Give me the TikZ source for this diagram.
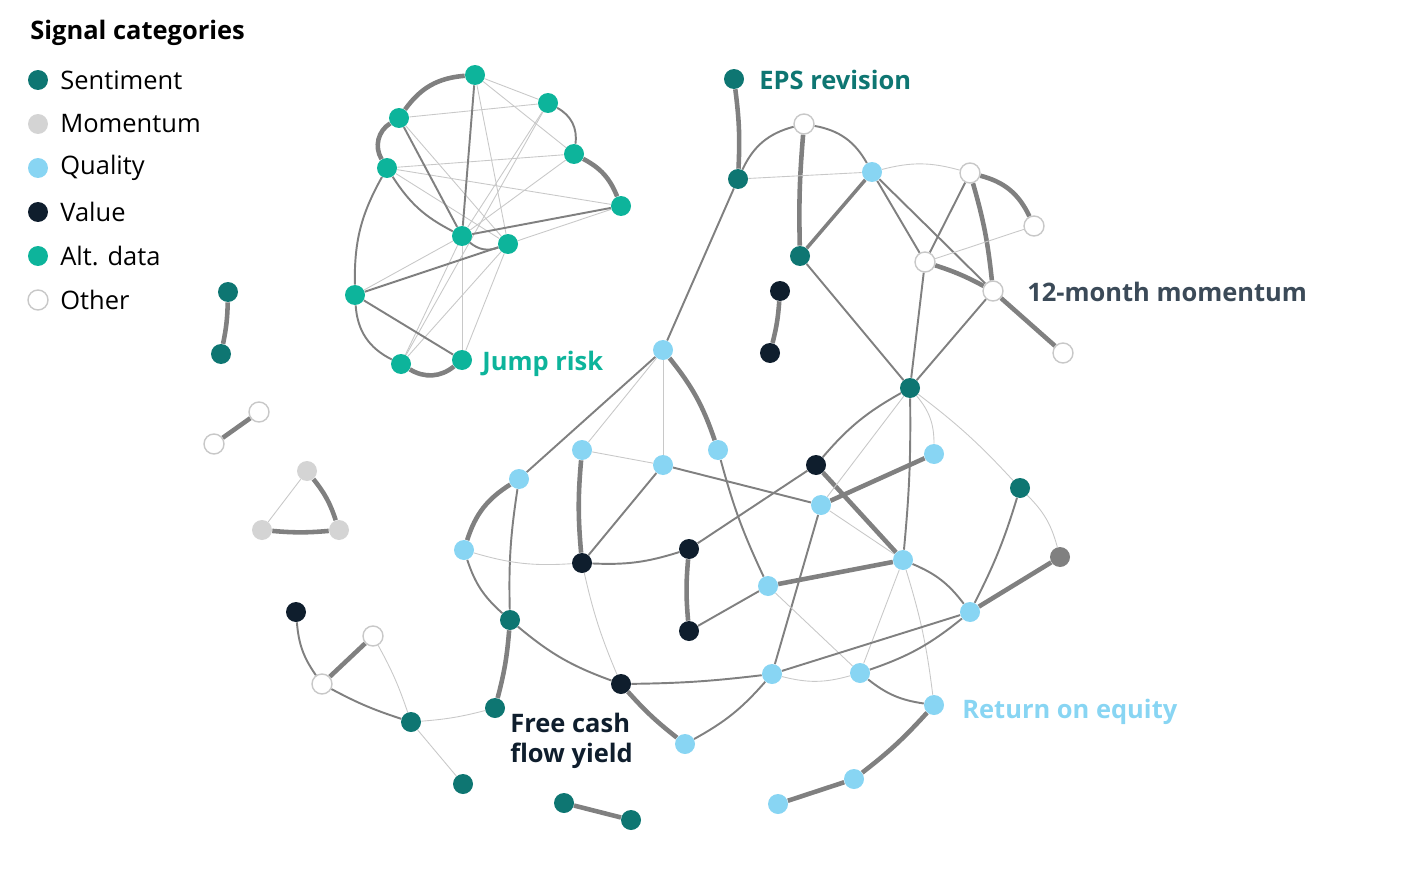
\documentclass[tikz,border=0pt]{standalone}
\usepackage{fontspec}
\setmainfont{Open Sans}
\usetikzlibrary{backgrounds}
\definecolor{senti}{HTML}{0E7672}
\definecolor{momen}{HTML}{D4D4D4}
\definecolor{quali}{HTML}{88D5F3}
\definecolor{valu}{HTML}{0F1E2D}
\definecolor{altd}{HTML}{0DB49B}
\definecolor{edgec}{HTML}{808080}
\definecolor{lightedge}{HTML}{C8C8C8}
\definecolor{momlab}{HTML}{3B4A58}
\tikzset{
  dot/.style={circle, inner sep=0pt, minimum size=0.4cm},
  sen/.style={dot, fill=senti},
  mom/.style={dot, fill=momen},
  qua/.style={dot, fill=quali},
  val/.style={dot, fill=valu},
  alt/.style={dot, fill=altd},
  oth/.style={dot, fill=white, draw=lightedge, line width=0.8pt},
  gry/.style={dot, fill=edgec},
  thin/.style={lightedge, line width=0.5pt},
  mid/.style={edgec, line width=1.1pt},
  thk/.style={edgec, line width=2.6pt},
  lab/.style={font=\fontsize{14.5}{17}\selectfont, anchor=west, inner sep=0pt},
  blab/.style={lab, font=\fontsize{14.5}{17}\selectfont\bfseries},
}
\begin{document}
\begin{tikzpicture}[x=0.02cm, y=-0.02cm]
	\useasboundingbox (0,0) rectangle (1416,892);
	% legend
	\node [blab] (legtitle) at (30,33) {Signal categories};
	\node [sen] (l1) at (38,80) {};  \node [lab] at (60,80) {Sentiment};
	\node [mom] (l2) at (38,124) {}; \node [lab] at (60,124) {Momentum};
	\node [qua] (l3) at (38,168) {}; \node [lab] at (60,168) {Quality};
	\node [val] (l4) at (38,212) {}; \node [lab] at (60,212) {Value};
	\node [alt] (l5) at (38,256) {}; \node [lab] at (60,256) {Alt. data};
	\node [oth] (l6) at (38,300) {}; \node [lab] at (60,300) {Other};

	% alt data cluster
	\node [alt] (a1) at (475,75) {};
	\node [alt] (a2) at (548,103) {};
	\node [alt] (a3) at (399,118) {};
	\node [alt] (a4) at (574,154) {};
	\node [alt] (a5) at (387,168) {};
	\node [alt] (a6) at (621,206) {};
	\node [alt] (a7) at (462,236) {};
	\node [alt] (a8) at (508,244) {};
	\node [alt] (a9) at (355,295) {};
	\node [alt] (a10) at (401,364) {};
	\node [alt] (a11) at (462,360) {};

	% upper right cluster
	\node [sen] (eps) at (734,79) {};
	\node [sen] (s2) at (738,179) {};
	\node [oth] (o1) at (804,124) {};
	\node [qua] (q1) at (872,172) {};
	\node [sen] (s3) at (800,256) {};
	\node [oth] (o2) at (970,173) {};
	\node [oth] (o3) at (1034,226) {};
	\node [oth] (o4) at (925,262) {};
	\node [oth] (o5) at (993,291) {};
	\node [oth] (o6) at (1063,353) {};
	\node [sen] (s4) at (910,388) {};

	% small pieces
	\node [val] (v7) at (780,291) {};
	\node [val] (v8) at (770,353) {};
	\node [sen] (s10) at (228,292) {};
	\node [sen] (s11) at (221,354) {};
	\node [oth] (o9) at (259,412) {};
	\node [oth] (o10) at (214,444) {};
	\node [mom] (m1) at (307,471) {};
	\node [mom] (m2) at (262,530) {};
	\node [mom] (m3) at (339,530) {};

	% lower cluster
	\node [qua] (q2) at (663,350) {};
	\node [qua] (q3) at (519,479) {};
	\node [qua] (q4) at (582,450) {};
	\node [qua] (q5) at (663,465) {};
	\node [qua] (q6) at (718,450) {};
	\node [qua] (q7) at (464,550) {};
	\node [val] (v1) at (582,563) {};
	\node [val] (v2) at (689,549) {};
	\node [val] (v3) at (816,465) {};
	\node [qua] (q8) at (821,505) {};
	\node [qua] (q9) at (934,454) {};
	\node [sen] (s5) at (1020,488) {};
	\node [qua] (q10) at (903,560) {};
	\node [gry] (g1) at (1060,557) {};
	\node [qua] (q11) at (768,586) {};
	\node [qua] (q12) at (970,612) {};
	\node [val] (v4) at (689,631) {};
	\node [sen] (s6) at (510,620) {};
	\node [val] (v5) at (621,684) {};
	\node [qua] (q13) at (772,674) {};
	\node [qua] (q14) at (860,673) {};
	\node [qua] (q15) at (934,705) {};
	\node [qua] (q16) at (685,744) {};
	\node [sen] (s7) at (495,708) {};
	\node [qua] (q17) at (854,779) {};
	\node [qua] (q18) at (778,804) {};
	\node [sen] (s12) at (564,803) {};
	\node [sen] (s13) at (631,820) {};
	\node [val] (v6) at (296,612) {};
	\node [oth] (o7) at (373,636) {};
	\node [oth] (o8) at (322,684) {};
	\node [sen] (s8) at (411,722) {};
	\node [sen] (s9) at (463,784) {};

	% edges, behind the dots
	\begin{scope}[on background layer]
	% alt data
	\foreach \p/\q in {a1/a2,a1/a8,a3/a2,a3/a8,a5/a4,a5/a8,a5/a6,a2/a7,a2/a10,a4/a7,
	    a6/a8,a7/a10,a7/a11,a8/a11,a8/a10,a9/a7,a1/a4}
	  \draw [thin] (\p) -- (\q);
	\foreach \p/\q in {a1/a7,a3/a7,a7/a6,a9/a8,a9/a11}
	  \draw [mid] (\p) -- (\q);
	\draw [mid] (a5) to [bend right=15] (a7);
	\draw [mid] (a7) to [bend right=30] (a8);
	\draw [mid] (a2) to [bend left=35] (a4);
	\draw [mid] (a5) to [bend right=15] (a9);
	\draw [mid] (a9) to [bend right=30] (a10);
	\draw [thk] (a1) to [bend right=25] (a3);
	\draw [thk] (a3) to [bend right=45] (a5);
	\draw [thk] (a4) to [bend left=20] (a6);
	\draw [thk] (a10) to [bend right=35] (a11);
	% upper right
	\draw [thk] (eps) to [bend left=5] (s2);
	\draw [mid] (s2) to [bend left=25] (o1);
	\draw [thk] (o1) to [bend right=3] (s3);
	\draw [mid] (o1) to [bend left=25] (q1);
	\draw [thk, line width=2pt] (s3) -- (q1);
	\draw [thin] (s2) -- (q1);
	\draw [mid] (q1) -- (o4);
	\draw [mid] (q1) -- (o5);
	\draw [thin] (q1) to [bend left=15] (o2);
	\draw [mid] (o2) -- (o4);
	\draw [thk] (o2) to [bend left=5] (o5);
	\draw [thk] (o2) to [bend left=25] (o3);
	\draw [thin] (o4) -- (o3);
	\draw [thk] (o4) to [bend left=5] (o5);
	\draw [thk] (o5) -- (o6);
	\draw [mid] (s3) -- (s4);
	\draw [mid] (o4) -- (s4);
	\draw [mid] (o5) -- (s4);
	\draw [mid] (s2) -- (q2);
	% small pieces
	\draw [thk] (v7) to [bend left=5] (v8);
	\draw [thk] (s10) to [bend left=5] (s11);
	\draw [thk] (o9) -- (o10);
	\draw [thk] (m1) to [bend left=10] (m3);
	\draw [thk] (m2) to [bend right=5] (m3);
	\draw [thin] (m1) -- (m2);
	% lower cluster
	\draw [mid] (q2) -- (q3);
	\draw [thin] (q2) -- (q4);
	\draw [thin] (q2) -- (q5);
	\draw [thk] (q2) to [bend left=10] (q6);
	\draw [mid] (q6) to [bend right=5] (q11);
	\draw [thk] (q4) to [bend right=5] (v1);
	\draw [thin] (q4) -- (q5);
	\draw [mid] (q5) -- (v1);
	\draw [mid] (q5) -- (q8);
	\draw [thk] (q3) to [bend right=20] (q7);
	\draw [mid] (q3) to [bend right=5] (s6);
	\draw [thin] (q7) to [bend right=10] (v1);
	\draw [mid] (q7) to [bend right=15] (s6);
	\draw [mid] (v1) to [bend right=10] (v2);
	\draw [thin] (v1) to [bend right=5] (v5);
	\draw [thk] (s6) to [bend left=5] (s7);
	\draw [mid] (s6) to [bend right=10] (v5);
	\draw [thk] (v5) to [bend right=5] (q16);
	\draw [mid] (v5) to [bend right=3] (q13);
	\draw [thk] (v2) to [bend right=5] (v4);
	\draw [mid] (v4) -- (q11);
	\draw [mid] (v2) -- (v3);
	\draw [mid] (v3) to [bend left=10] (s4);
	\draw [thk] (v3) -- (q10);
	\draw [thk] (q8) -- (q9);
	\draw [thin] (q8) -- (q10);
	\draw [thin] (q8) -- (s4);
	\draw [mid] (q8) -- (q13);
	\draw [thk] (q11) -- (q10);
	\draw [thin] (q11) -- (q14);
	\draw [mid] (s4) to [bend left=3] (q10);
	\draw [thin] (s4) to [bend left=20] (q9);
	\draw [thin] (s4) to [bend left=5] (s5);
	\draw [thin] (s5) to [bend left=15] (g1);
	\draw [mid] (q10) to [bend left=15] (q12);
	\draw [thin] (q10) -- (q14);
	\draw [thin] (q10) to [bend left=5] (q15);
	\draw [mid] (q12) to [bend right=5] (s5);
	\draw [thk] (q12) -- (g1);
	\draw [mid] (q12) -- (q13);
	\draw [mid] (q12) to [bend left=10] (q14);
	\draw [thin] (q13) to [bend right=15] (q14);
	\draw [mid] (q14) to [bend right=15] (q15);
	\draw [mid] (q13) to [bend left=10] (q16);
	\draw [thk] (q15) to [bend left=5] (q17);
	\draw [thk] (q17) -- (q18);
	\draw [thk] (s12) -- (s13);
	% bottom left
	\draw [mid] (v6) to [bend right=15] (o8);
	\draw [thk] (o7) -- (o8);
	\draw [mid] (o8) to [bend right=5] (s8);
	\draw [thin] (o7) to [bend left=5] (s8);
	\draw [thin] (s8) to [bend right=5] (s7);
	\draw [thin] (s8) -- (s9);
	\end{scope}

	% labels
	\node [blab, text=senti] at (759,80) {EPS revision};
	\node [blab, text=momlab] at (1027,292) {12-month momentum};
	\node [blab, text=altd] at (482,364) {Jump risk};
	\node [blab, text=quali] at (962,712) {Return on equity};
	\node [blab, text=valu, align=left, anchor=north west] at (510,713) {Free cash\\flow yield};
\end{tikzpicture}
\end{document}
